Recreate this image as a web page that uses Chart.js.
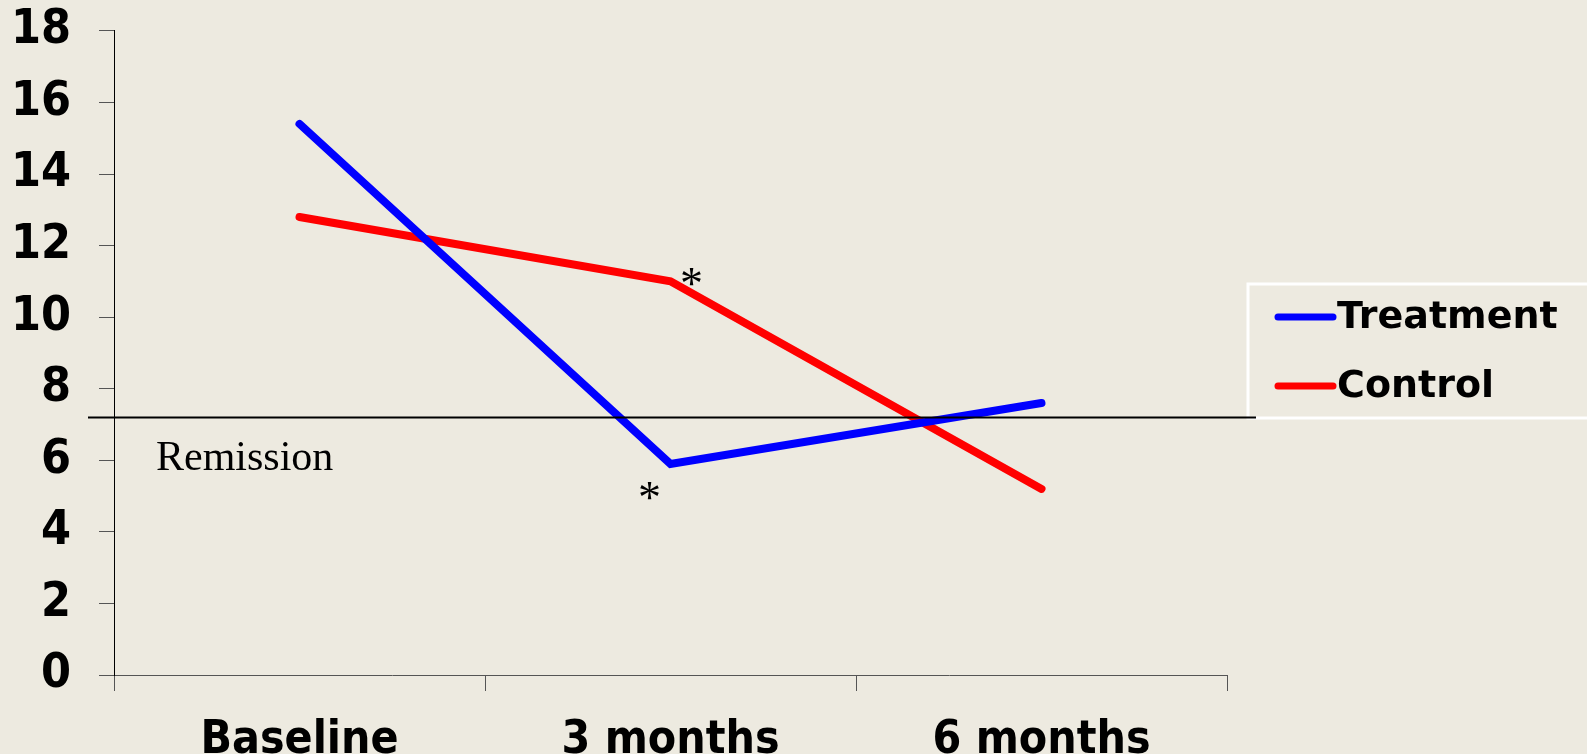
<!DOCTYPE html>
<html>
<head>
<meta charset="utf-8">
<script src="https://cdn.jsdelivr.net/npm/chart.js@4"></script>
<style>
  html, body { margin: 0; padding: 0; background: #EDEAE0; }
  #wrap { width: 1587px; height: 754px; }
</style>
</head>
<body>
<div id="wrap"><canvas id="CHARTREMISION"></canvas></div>
<script>
const periods = ['Baseline', '3 months', '6 months'];
const treatment = [15.4, 5.9, 7.6];
const control = [12.8, 11.0, 5.2];
const yMin = 0, yMax = 18, yStep = 2;
const remissionLevel = 7.2;
const remissionText = 'Remission';
// periods where the difference is significant
const starred = [1];

const axisFont = { family: "'DejaVu Sans Condensed', 'DejaVu Sans'", weight: 'bold', size: 48 };

// boxed legend, asterisks, remission threshold
const extras = {
  id: 'extras',
  afterDatasetsDraw(chart) {
    const c = chart.ctx, y = chart.scales.y, x = chart.scales.x, a = chart.chartArea;
    c.save();

    // legend box
    const bx = a.right + 21, by = 284;
    c.strokeStyle = '#fff';
    c.lineWidth = 3;
    c.strokeRect(bx, by, 400, 134);
    c.font = "bold 38px 'DejaVu Sans'";
    c.textAlign = 'left';
    c.textBaseline = 'middle';
    c.lineCap = 'round';
    chart.data.datasets.forEach((ds, k) => {
      const ly = by + 33 + k * 69;
      c.strokeStyle = ds.borderColor;
      c.lineWidth = 7;
      c.beginPath();
      c.moveTo(bx + 30, ly);
      c.lineTo(bx + 85, ly);
      c.stroke();
      c.fillStyle = '#000';
      c.fillText(ds.label, bx + 89, ly + 1);
    });

    c.fillStyle = '#000';
    c.font = "46px 'Liberation Serif'";
    c.textAlign = 'center';
    c.textBaseline = 'middle';
    starred.forEach(i => {
      const px = x.getPixelForValue(i);
      c.fillText('*', px + 21, y.getPixelForValue(control[i]) + 6);
      c.fillText('*', px - 21, y.getPixelForValue(treatment[i]) + 37);
    });

    const yr = Math.round(y.getPixelForValue(remissionLevel)) + 0.5;
    c.lineCap = 'butt';
    c.strokeStyle = '#000';
    c.lineWidth = 2;
    c.beginPath();
    c.moveTo(a.left - 26, yr);
    c.lineTo(a.right + 29, yr);
    c.stroke();

    c.font = "42px 'Liberation Serif'";
    c.textAlign = 'left';
    c.textBaseline = 'alphabetic';
    c.fillText(remissionText, a.left + 42, yr + 52);
    c.restore();
  }
};

new Chart(document.getElementById('CHARTREMISION'), {
  type: 'line',
  data: {
    labels: periods,
    datasets: [{
      label: 'Treatment',
      data: treatment,
      borderColor: '#0000FF',
      borderWidth: 8,
      pointRadius: 0,
      borderCapStyle: 'round',
      borderJoinStyle: 'miter'
    }, {
      label: 'Control',
      data: control,
      borderColor: '#FF0000',
      borderWidth: 8,
      pointRadius: 0,
      borderCapStyle: 'round',
      borderJoinStyle: 'miter'
    }]
  },
  options: {
    responsive: true,
    maintainAspectRatio: false,
    animation: false,
    layout: { padding: { left: 0, right: 360, top: 0, bottom: 0 } },
    plugins: { legend: { display: false }, tooltip: { enabled: false } },
    scales: {
      x: {
        offset: true,
        afterFit(scale) { scale.height = 79; },
        grid: { offset: true, drawOnChartArea: false, tickLength: 16, color: '#555' },
        border: { color: '#555', width: 1 },
        ticks: { color: '#000', font: { ...axisFont, size: 46 }, padding: 22 }
      },
      y: {
        min: yMin,
        max: yMax,
        afterFit(scale) { scale.width = 114; },
        grid: { drawOnChartArea: false, tickLength: 15, color: '#555' },
        border: { color: '#000', width: 1 },
        ticks: { stepSize: yStep, color: '#000', font: { ...axisFont, lineHeight: 0.12 }, padding: 28 }
      }
    }
  },
  plugins: [extras]
});
</script>
</body>
</html>
